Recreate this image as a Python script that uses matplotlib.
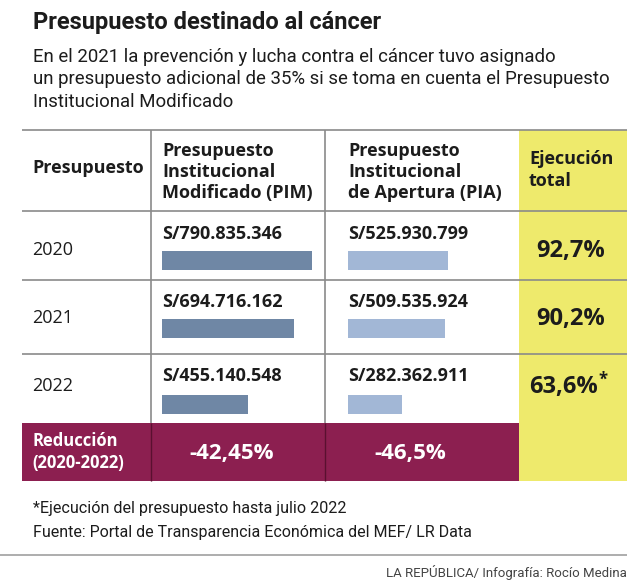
import numpy as np
import matplotlib.pyplot as plt

# data
years = ["2020", "2021", "2022"]
pim = [790.835346, 694.716162, 455.140548]   # millones de soles
pia = [525.930799, 509.535924, 282.362911]
pim_labels = ["S/790.835.346", "S/694.716.162", "S/455.140.548"]
pia_labels = ["S/525.930.799", "S/509.535.924", "S/282.362.911"]
ejecucion = ["92,7%", "90,2%", "63,6%"]
reduccion = ["-42,45%", "-46,5%"]

title = "Presupuesto destinado al cáncer"
subtitle = ["En el 2021 la prevención y lucha contra el cáncer tuvo asignado",
            "un presupuesto adicional de 35% si se toma en cuenta el Presupuesto",
            "Institucional Modificado"]
head_pim = "Presupuesto\nInstitucional\nModificado (PIM)"
head_pia = "Presupuesto\nInstitucional\nde Apertura (PIA)"
head_ejec = "Ejecución\ntotal"
nota = "*Ejecución del presupuesto hasta julio 2022"
fuente = "Fuente: Portal de Transparencia Económica del MEF/ LR Data"
credito = "LA REPÚBLICA/ Infografía: Rocío Medina"

plt.rcParams["font.family"] = ["Roboto", "DejaVu Sans"]
TAB = ["Open Sans", "DejaVu Sans"]   # wider humanist face for the table
DARK = "#1c1c1c"
LINE = "#8a8a8a"
YELLOW = "#eeea6c"
MAROON = "#8c1f50"
C_PIM = "#6f87a5"
C_PIA = "#a2b7d6"

fig = plt.figure(figsize=(6.4, 5.87), dpi=100)
ax = fig.add_axes([0, 0, 1, 1])
ax.set_xlim(0, 640)
ax.set_ylim(587, 0)
ax.axis("off")

# table geometry (pixels)
top = 130
row_lines = [211, 280, 354, 423]
red_bot = 481
col1, col2, col3, right = 151, 325, 519, 627

# yellow column and maroon row
ax.add_patch(plt.Rectangle((col3, top), right - col3, red_bot - top, color=YELLOW, lw=0, zorder=0))
ax.add_patch(plt.Rectangle((22, row_lines[-1]), col3 - 22, red_bot - row_lines[-1], color=MAROON, lw=0, zorder=0))

ax.hlines([top] + row_lines[:-1], 22, right, color=LINE, lw=1.2, zorder=1)
ax.vlines([col1, col2], top, row_lines[-1], color=LINE, lw=1.2, zorder=1)
ax.vlines([col1, col2], row_lines[-1], red_bot, color="#5a1030", lw=1.0, zorder=1)

# headers
hd = dict(fontsize=13, fontweight="bold", color=DARK, va="center", family=TAB, linespacing=1.22)
ax.text(32, 168, "Presupuesto", **hd)
ax.text(162, 172, head_pim, **hd)
ax.text(348, 172, head_pia, **hd)
ax.text(529, 170, head_ejec, **hd)

# rows
row_y = np.array([250, 318, 386])
val_y = np.array([234, 302, 376])
bar_y = np.array([260.5, 328.5, 404.5])
scale = 150 / max(pim)
ax.barh(bar_y, np.array(pim) * scale, height=19, left=162, color=C_PIM, zorder=2)
ax.barh(bar_y, np.array(pia) * scale, height=19, left=348, color=C_PIA, zorder=2)
for i in range(len(years)):
    ax.text(32, row_y[i], years[i], fontsize=13, color=DARK, va="center", family=TAB)
    ax.text(162, val_y[i], pim_labels[i], fontsize=13, fontweight="bold", color=DARK,
            va="center", family=TAB)
    ax.text(348, val_y[i], pia_labels[i], fontsize=13, fontweight="bold", color=DARK,
            va="center", family=TAB)
    ax.text(605 if i < 2 else 598, row_y[i] + 1, ejecucion[i], fontsize=17, fontweight="bold",
            color=DARK, va="center", ha="right", family=TAB)
ax.text(598, row_y[2] - 6, "*", fontsize=12, fontweight="bold", color=DARK, va="center",
        ha="left", family=TAB)

# reduction row
ax.text(32, 452, "Reducción\n(2020-2022)", fontsize=12, fontweight="bold", color="white",
        va="center", linespacing=1.25, family=TAB)
ax.text(232, 453, reduccion[0], fontsize=16, fontweight="bold", color="white",
        va="center", ha="center", family=TAB)
ax.text(410, 453, reduccion[1], fontsize=16, fontweight="bold", color="white",
        va="center", ha="center", family=TAB)

# titles
ax.text(33, 22, title, fontsize=17, fontweight="bold", color=DARK, va="center")
for k, line in enumerate(subtitle):
    ax.text(33, 57 + 22.5 * k, line, fontsize=13.4, color=DARK, va="center")

# footer
ax.text(33, 509, nota, fontsize=11.6, color=DARK, va="center")
ax.text(33, 533, fuente, fontsize=11.5, color=DARK, va="center")
ax.hlines(555, 0, right, color="#a0a0a0", lw=1.2)
ax.text(right, 573, credito, fontsize=9.5, color="#444444", va="center", ha="right")

plt.savefig("out.png", dpi=100)
